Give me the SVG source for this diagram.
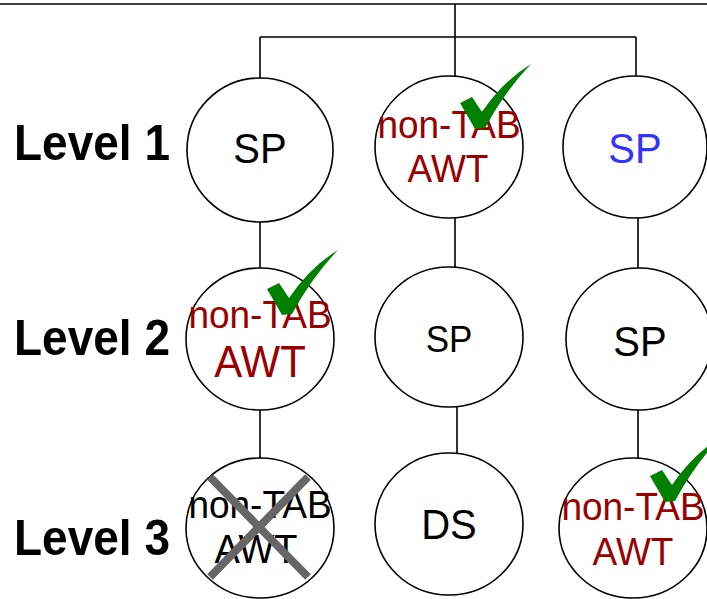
<svg xmlns="http://www.w3.org/2000/svg" width="707" height="599" viewBox="0 0 707 599">
<style>
.n{fill:#fff;stroke:#000;stroke-width:1.6}
.c{fill:none;stroke:#000;stroke-width:1.6}
.t{font-family:"Liberation Sans",Arial,sans-serif;text-anchor:middle}
.lbl{font-family:"Liberation Sans",Arial,sans-serif;font-weight:bold;font-size:46px}
.red{fill:#990000}
.blue{fill:#3333ff}
.ck{fill:#008000}
</style>
<defs>
<path id="check" d="M0,0 L-15,-26 L-3,-32 L7,-17 Q28,-48 56,-65 Q30,-38 10,-1 Z"/>
</defs>
<rect width="707" height="599" fill="#fff"/>
<g id="connectors">
<path class="c" d="M0,4 H707 M455,4 V37 M260,37 H636 M260,37 V78 M455,37 V76 M636,37 V76"/>
<path class="c" d="M260,222 V268 M455,218 V267 M638,218 V268"/>
<path class="c" d="M260,410 V458 M457,407 V453 M638,410 V458"/>
</g>
<g id="labels">
<text class="lbl" transform="translate(14,160) scale(1,1.1)">Level 1</text>
<text class="lbl" transform="translate(14,355) scale(1,1.1)">Level 2</text>
<text class="lbl" transform="translate(14,555) scale(1,1.1)">Level 3</text>
</g>
<g id="n11">
<ellipse class="n" cx="260" cy="150" rx="73" ry="72"/>
<text class="t" transform="translate(260,163) scale(1,1.07)" font-size="40">SP</text>
</g>
<g id="n12">
<ellipse class="n" cx="449" cy="147" rx="74" ry="71"/>
<text class="t red" transform="translate(449,138) scale(1,1.07)" font-size="37">non-TAB</text>
<text class="t red" transform="translate(448,182) scale(1,1.07)" font-size="37">AWT</text>
<use href="#check" class="ck" transform="translate(475,129)"/>
</g>
<g id="n13">
<ellipse class="n" cx="635" cy="147" rx="72" ry="71"/>
<text class="t blue" transform="translate(635,163) scale(1,1.07)" font-size="40">SP</text>
</g>
<g id="n21">
<ellipse class="n" cx="260" cy="339" rx="74" ry="71"/>
<text class="t red" transform="translate(260,328) scale(1,1.07)" font-size="37">non-TAB</text>
<text class="t red" transform="translate(260,377) scale(1,1.05)" font-size="42">AWT</text>
<use href="#check" class="ck" transform="translate(282,315)"/>
</g>
<g id="n22">
<ellipse class="n" cx="449" cy="337" rx="74" ry="70"/>
<text class="t" transform="translate(449,352) scale(1,1.07)" font-size="35">SP</text>
</g>
<g id="n23">
<ellipse class="n" cx="639" cy="339" rx="73" ry="71"/>
<text class="t" transform="translate(640,356) scale(1,1.07)" font-size="40">SP</text>
</g>
<g id="n31">
<ellipse class="n" cx="260" cy="528" rx="74" ry="70"/>
<text class="t" transform="translate(260,518) scale(1,1.07)" font-size="37">non-TAB</text>
<text class="t" transform="translate(256,563) scale(1,1.07)" font-size="38">AWT</text>
<path d="M210,477 L308,577 M308,477 L210,577" stroke="#666" stroke-width="8" fill="none"/>
</g>
<g id="n32">
<ellipse class="n" cx="449" cy="524" rx="74" ry="71"/>
<text class="t" transform="translate(449,539) scale(1,1.07)" font-size="40">DS</text>
</g>
<g id="n33">
<ellipse class="n" cx="633" cy="528" rx="74" ry="70"/>
<text class="t red" transform="translate(633,520) scale(1,1.07)" font-size="37">non-TAB</text>
<text class="t red" transform="translate(633,565) scale(1,1.07)" font-size="37">AWT</text>
<use href="#check" class="ck" transform="translate(665,502)"/>
</g>
</svg>
